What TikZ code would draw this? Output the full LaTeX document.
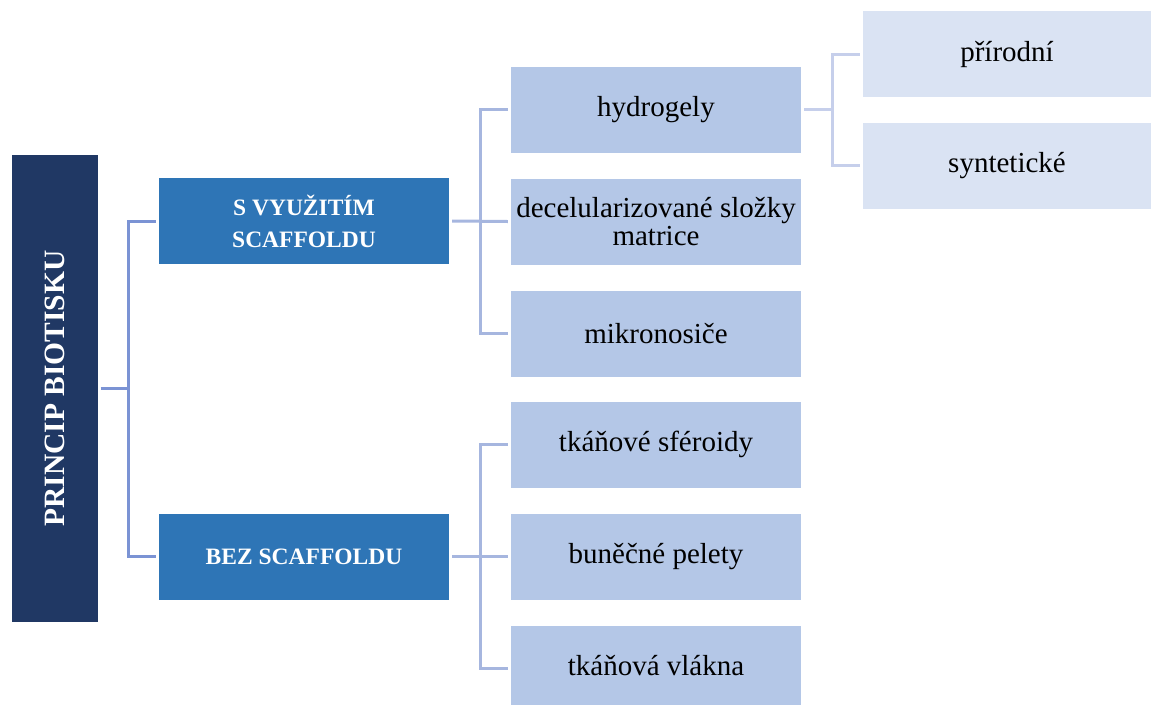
\documentclass[tikz,border=0pt]{standalone}
\usepackage{fontspec}
\setmainfont{Liberation Serif}
\definecolor{navy}{HTML}{203864}
\definecolor{midblue}{HTML}{2E75B6}
\definecolor{lightblue}{HTML}{B4C7E7}
\definecolor{paleblue}{HTML}{DAE3F3}
\definecolor{lineA}{HTML}{7B93D4}
\definecolor{lineB}{HTML}{A6B6DF}
\definecolor{lineC}{HTML}{C6CFEB}
\tikzset{
  rootbox/.style={fill=navy, draw=none, minimum width=86pt, minimum height=467pt, inner sep=0pt,
    text=white, font=\fontsize{29.5pt}{32pt}\selectfont\bfseries},
  catbox/.style={fill=midblue, draw=none, minimum width=290pt, minimum height=86pt, inner sep=0pt,
    text=white, align=center, font=\fontsize{23.5pt}{32pt}\selectfont\bfseries},
  itembox/.style={fill=lightblue, draw=none, minimum width=290pt, minimum height=86pt, inner sep=0pt,
    text=black, align=center, font=\fontsize{29pt}{28.5pt}\selectfont},
  subbox/.style={fill=paleblue, draw=none, minimum width=288pt, minimum height=86pt, inner sep=0pt,
    text=black, align=center, font=\fontsize{29pt}{28.5pt}\selectfont},
  connA/.style={draw=lineA, line width=3pt},
  connB/.style={draw=lineB, line width=3pt},
  connC/.style={draw=lineC, line width=3pt},
}
\begin{document}
\begin{tikzpicture}[x=1pt,y=-1pt]
\useasboundingbox (0,0) rectangle (1151,705);
% nodes
\node[rootbox] (root) at (54.5,388.5) {\rotatebox{90}{PRINCIP BIOTISKU}};
\node[catbox] (s1) at (304,221) {S VYUŽITÍM\\SCAFFOLDU};
\node[catbox] (s2) at (304,556.5) {BEZ SCAFFOLDU};
\node[itembox] (hyd) at (656,109.5) {hydrogely};
\node[itembox] (dec) at (656,221.5) {decelularizované složky\\matrice};
\node[itembox] (mik) at (656,333.5) {mikronosiče};
\node[itembox] (sfe) at (656,444.5) {tkáňové sféroidy};
\node[itembox] (pel) at (656,556.5) {buněčné pelety};
\node[itembox, minimum height=79pt] (vla) at (656,665.5) {\raisebox{-3pt}{tkáňová vlákna}};
\node[subbox] (pri) at (1007,54) {přírodní};
\node[subbox] (syn) at (1007,165.5) {syntetické};
% bus coordinates
\coordinate (b1) at (128,388.5);
\coordinate (b2) at (480,221.5);
\coordinate (b3) at (480,556.5);
\coordinate (b4) at (832,109.5);
\coordinate (v3) at (480,668);
% connectors level 1
\draw[connA] ([xshift=3pt]root.east) -- (b1);
\draw[connA] ([xshift=-3pt]s1.west) -| (b1) |- ([xshift=-3pt]s2.west);
% connectors level 2
\draw[connB] ([xshift=3pt]s1.east) -- ([xshift=-3pt]dec.west);
\draw[connB] ([xshift=-3pt]hyd.west) -| (b2) |- ([xshift=-3pt]mik.west);
\draw[connB] ([xshift=3pt]s2.east) -- ([xshift=-3pt]pel.west);
\draw[connB] ([xshift=-3pt]sfe.west) -| (v3) -- ([xshift=-3pt]vla.west |- v3);
% connectors level 3
\draw[connC] ([xshift=3pt]hyd.east) -- (b4);
\draw[connC] ([xshift=-3pt]pri.west) -| (b4) |- ([xshift=-3pt]syn.west);
\end{tikzpicture}
\end{document}
